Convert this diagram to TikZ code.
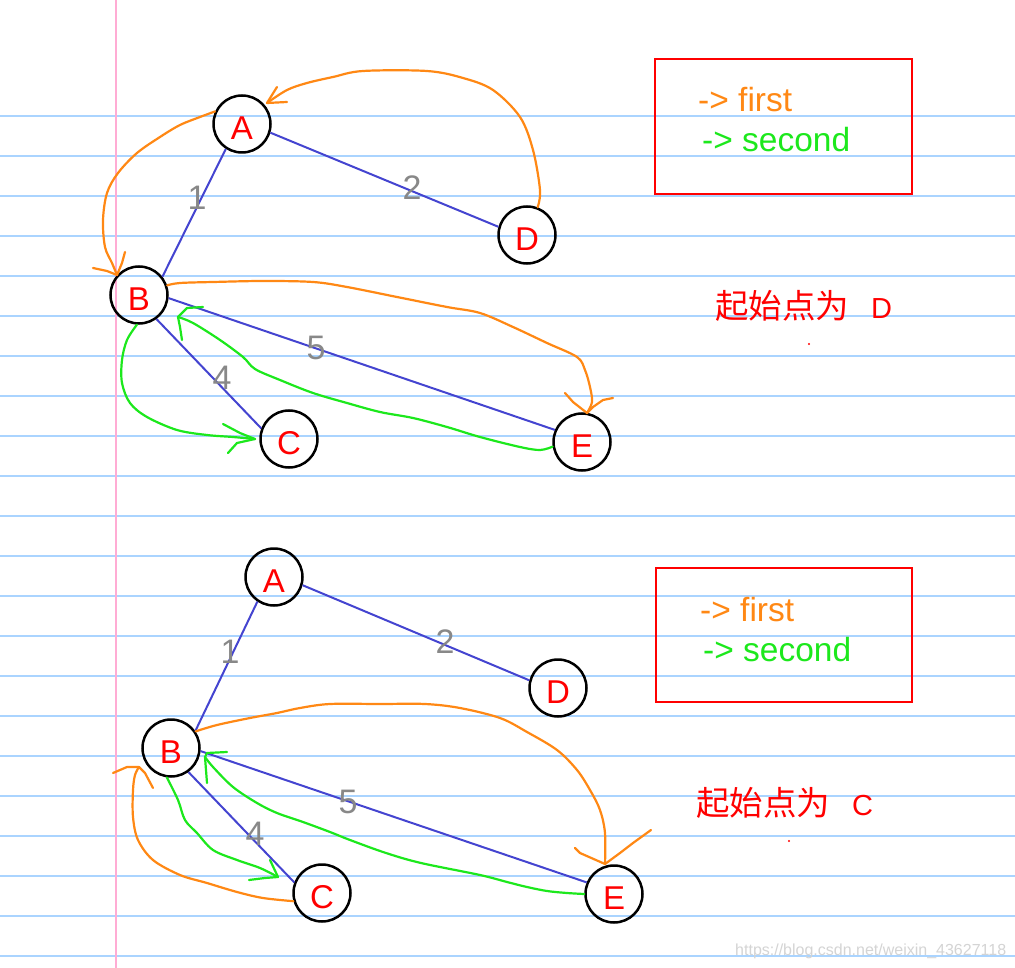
\documentclass[tikz,border=0pt]{standalone}
\usepackage{fontspec}
\setmainfont{Liberation Sans}
\newfontfamily\cjk{Noto Sans CJK SC}
\usetikzlibrary{arrows.meta}
\definecolor{ruleblue}{RGB}{170,212,255}
\definecolor{marginpink}{RGB}{255,172,212}
\definecolor{edgeblue}{RGB}{68,68,208}
\definecolor{firstor}{RGB}{255,136,20}
\definecolor{secondgr}{RGB}{28,232,28}
\definecolor{labred}{RGB}{255,0,0}
\definecolor{numgray}{RGB}{136,136,136}
\definecolor{wmgray}{RGB}{212,212,212}
\begin{document}
\begin{tikzpicture}[x=1pt,y=-1pt,
  vtx/.style={circle,draw=black,line width=2.5pt,minimum size=57pt,inner sep=0pt,
    text=labred,font=\fontsize{33}{33}\selectfont,text height=31pt,text depth=0pt},
  edgeline/.style={draw=edgeblue,line width=2pt},
  wnum/.style={text=numgray,font=\fontsize{34}{34}\selectfont,inner sep=0pt},
  hand/.style={line width=2.2pt,line cap=round,line join=round},
  firstc/.style={hand,draw=firstor},
  secondc/.style={hand,draw=secondgr},
  legbox/.style={draw=labred,line width=2pt},
  legtext/.style={anchor=base west,inner sep=0pt,font=\fontsize{33.5}{33.5}\selectfont},
  title/.style={anchor=west,inner sep=0pt,text=labred,font=\fontsize{33.5}{33.5}\selectfont},
  sm/.style={smooth,tension=0.55}
]
\useasboundingbox (0,0) rectangle (1015,968);
\fill[white] (0,0) rectangle (1015,968);
% notebook rules
\foreach \k in {0,...,21}{
  \draw[ruleblue,line width=2pt] (0,116+40*\k) -- (1015,116+40*\k);
}
\draw[marginpink,line width=2pt] (116,0) -- (116,968);

% ================= top graph =================
\node[vtx] (A1) at (242,124) {A};
\node[vtx] (B1) at (139,295) {B};
\node[vtx] (D1) at (527,235) {D};
\node[vtx] (C1) at (289,439) {C};
\node[vtx] (E1) at (582,442) {E};

\draw[edgeline] (B1.38) -- (A1.237);
\draw[edgeline] (A1.-17) -- (D1.164);
\draw[edgeline] (B1.-54) -- (C1.159);
\draw[edgeline] (B1.-6) -- (E1.156);

\node[wnum] (w11) at (197,198) {1};
\node[wnum] (w12) at (412,188) {2};
\node[wnum] (w14) at (222,378) {4};
\node[wnum] (w15) at (316,348) {5};

\coordinate (tDA) at (267,103);
\coordinate (tAB) at (117,275);
\coordinate (tBE) at (587,413);
\coordinate (tBC) at (255,439);
\coordinate (tEB) at (178,317);

% first (orange)
\draw[firstc] plot[sm] coordinates {(D1.69) (540,190) (533,150) (520,117) (493,90) (463,78) (427,71) (363,71) (333,77) (307,83) (287,90) (tDA)};
\draw[firstc] (tDA) ++(10,-16) -- (tDA) -- ++(20,-1);
\draw[firstc] plot[sm] coordinates {(A1.155) (200,117) (180,125) (160,137) (137,153) (118,173) (107,193) (103,220) (105,247) (112,263) (tAB)};
\draw[firstc] (tAB) ++(-24,-7) -- ++(14,3) -- (tAB) -- ++(5,-12) -- ++(3,-11);
\draw[firstc] plot[sm] coordinates {(B1.19) (180,283) (213,282) (263,281) (313,282) (347,287) (397,297) (447,307) (480,313) (513,327) (547,343) (577,357) (585,370) (590,387) (592,402) (tBE)};
\draw[firstc] (tBE) ++(-22,-20) -- ++(8,9) -- (tBE) -- ++(6,-6) -- ++(10,-7) -- ++(10,-2);
% second (green)
\draw[secondc] plot[sm] coordinates {(B1.266) (127,340) (122,360) (122,383) (130,403) (147,417) (177,430) (207,435) (233,437) (tBC)};
\draw[secondc] (tBC) ++(-32,-15) -- ++(17,9) -- (tBC) -- ++(-18,4) -- ++(-9,10);
\draw[secondc] plot[sm] coordinates {(E1.189) (540,450) (520,447) (480,437) (447,427) (413,418) (380,412) (347,403) (313,393) (280,380) (255,369) (243,357) (220,340) (193,323) (tEB)};
\draw[secondc] (tEB) ++(25,-10) -- ++(-16,1) -- (tEB) -- ++(2,10) -- ++(2,13);

% legend top
\draw[legbox] (655,59) rectangle (912,194);
\node[legtext,text=firstor] (f1) at (698,112) {-> first};
\node[legtext,text=secondgr] (s1) at (702,152) {-> second};
\node[title] (t1) at (715,306) {{\cjk 起始点为}\hspace{22pt}{\fontsize{29}{29}\selectfont D}};
\fill[labred] (809,344) circle (1.2);

% ================= bottom graph =================
\node[vtx] (A2) at (274,577) {A};
\node[vtx] (B2) at (171,748) {B};
\node[vtx] (D2) at (558,688) {D};
\node[vtx] (C2) at (322,893) {C};
\node[vtx] (E2) at (614,894) {E};

\draw[edgeline] (B2.35) -- (A2.236);
\draw[edgeline] (A2.-16) -- (D2.165);
\draw[edgeline] (B2.-54) -- (C2.159);
\draw[edgeline] (B2.-6) -- (E2.157);

\node[wnum] (w21) at (230,652) {1};
\node[wnum] (w22) at (445,642) {2};
\node[wnum] (w24) at (255,834) {4};
\node[wnum] (w25) at (348,802) {5};

\coordinate (uBE) at (605,864);
\coordinate (uCB) at (139,767);
\coordinate (uBC) at (278,877);
\coordinate (uEB) at (205,757);

% first (orange)
\draw[firstc] plot[sm] coordinates {(B2.34) (217,725) (250,718) (277,713) (300,708) (330,704) (380,704) (425,704) (460,708) (500,718) (527,732) (557,750) (577,770) (590,790) (600,810) (605,833) (uBE)};
\draw[firstc] (uBE) ++(-30,-16) -- ++(5,5) -- (uBE) -- ++(15,-11) -- ++(13,-10) -- ++(18,-13);
\draw[firstc] plot[sm] coordinates {(C2.196) (263,898) (237,892) (207,883) (180,875) (153,860) (138,840) (133,817) (133,790) (135,775) (uCB)};
\draw[firstc] (uCB) ++(-26,6) -- ++(14,-6) -- (uCB) -- ++(6,6) -- ++(8,15);
% second (green)
\draw[secondc] plot[sm] coordinates {(B2.262) (178,800) (185,820) (197,833) (213,850) (237,860) (260,868) (uBC)};
\draw[secondc] (uBC) ++(-8,-17) -- (uBC) -- ++(-13,1) -- ++(-16,2);
\draw[secondc] plot[sm] coordinates {(E2.180) (567,893) (547,891) (527,887) (507,882) (480,875) (421,863) (386,853) (350,840) (330,832) (303,822) (277,813) (257,803) (233,787) (213,767) (uEB)};
\draw[secondc] (uEB) ++(22,-5) -- ++(-20,1) -- (uEB) -- ++(1,13) -- ++(1,13);

% legend bottom
\draw[legbox] (656,568) rectangle (912,702);
\node[legtext,text=firstor] (f2) at (700,621) {-> first};
\node[legtext,text=secondgr] (s2) at (703,661) {-> second};
\node[title] (t2) at (696,803) {{\cjk 起始点为}\hspace{22pt}{\fontsize{29}{29}\selectfont C}};
\fill[labred] (789,841) circle (1.2);

% watermark
\node[anchor=base west,inner sep=0pt,text=wmgray,font=\fontsize{16}{16}\selectfont] (wm) at (735,955) {https://blog.csdn.net/weixin\_43627118};
\end{tikzpicture}
\end{document}
